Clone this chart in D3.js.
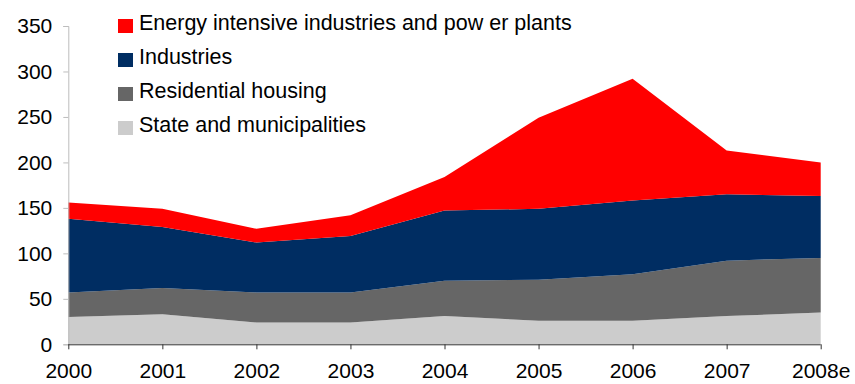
<!DOCTYPE html>
<html>
<head>
<meta charset="utf-8">
<script src="https://cdn.jsdelivr.net/npm/d3@7/dist/d3.min.js"></script>
<style>
  html, body { margin: 0; padding: 0; background: #fff; }
  svg text { font-family: "Liberation Sans", Arial, sans-serif; fill: #000; }
</style>
</head>
<body>
<svg id="chart" width="855" height="384"></svg>
<script>
// Categories (years) and stacked series values
const years = ["2000", "2001", "2002", "2003", "2004", "2005", "2006", "2007", "2008e"];
const stateMunicipalities = [30, 33, 24, 24, 31, 26, 26, 31, 35];
const residentialHousing  = [27, 29, 33, 33, 39, 45, 51, 61, 60];
const industries          = [81, 67, 55, 62, 77, 78, 81, 73, 68];
const energyIntensive     = [18, 20, 15, 23, 37, 100, 134, 48, 37];
const yTicks = [0, 50, 100, 150, 200, 250, 300, 350];

const seriesNames = [
  "State and municipalities",
  "Residential housing",
  "Industries",
  "Energy intensive industries and pow er plants"
];
const seriesValues = [stateMunicipalities, residentialHousing, industries, energyIntensive];
const colors = ["#cccccc", "#666666", "#002d62", "#ff0000"];

const svg = d3.select("#chart");
const plotLeft = 68.3, plotRight = 820.7, plotTop = 26, plotBottom = 344.3;

const x = d3.scalePoint().domain(years).range([plotLeft, plotRight]);
const y = d3.scaleLinear().domain([0, 350]).range([plotBottom, plotTop]);

const rows = years.map((yr, i) => {
  const r = { year: yr };
  seriesNames.forEach((n, k) => r[n] = seriesValues[k][i]);
  return r;
});
const stacked = d3.stack().keys(seriesNames)(rows);

const area = d3.area()
  .x(d => x(d.data.year))
  .y0(d => y(d[0]))
  .y1(d => y(d[1]));

svg.append("g").selectAll("path")
  .data(stacked)
  .join("path")
  .attr("d", area)
  .attr("fill", (d, i) => colors[i]);

// Y axis
const yAxis = svg.append("g")
  .attr("transform", `translate(${plotLeft},0)`)
  .call(d3.axisLeft(y).tickValues(yTicks).tickSize(5).tickPadding(11).tickFormat(d3.format("d")));
yAxis.select(".domain").attr("stroke", "#bdbdbd");
yAxis.selectAll(".tick line").attr("stroke", "#bdbdbd");
yAxis.selectAll("text").style("font-size", "21px").attr("fill", "#111");

// X axis
const xAxis = svg.append("g")
  .attr("transform", `translate(0,${plotBottom})`)
  .call(d3.axisBottom(x).tickSize(5).tickPadding(14));
xAxis.select(".domain").attr("stroke", "#333").attr("d", `M${plotLeft},0.5H${plotRight}`);
xAxis.selectAll(".tick line").attr("stroke", "#333");
xAxis.selectAll("text").style("font-size", "21px").attr("fill", "#111");

// Legend
const legendOrder = [3, 2, 1, 0];
const legend = svg.append("g");
legendOrder.forEach((k, j) => {
  const g = legend.append("g").attr("transform", `translate(118,${19 + j * 34})`);
  g.append("rect").attr("width", 15).attr("height", 14).attr("fill", colors[k]);
  g.append("text")
    .attr("x", 21).attr("y", 10.5)
    .style("font-size", "21.5px")
    .attr("fill", "#111")
    .text(seriesNames[k]);
});
</script>
</body>
</html>
